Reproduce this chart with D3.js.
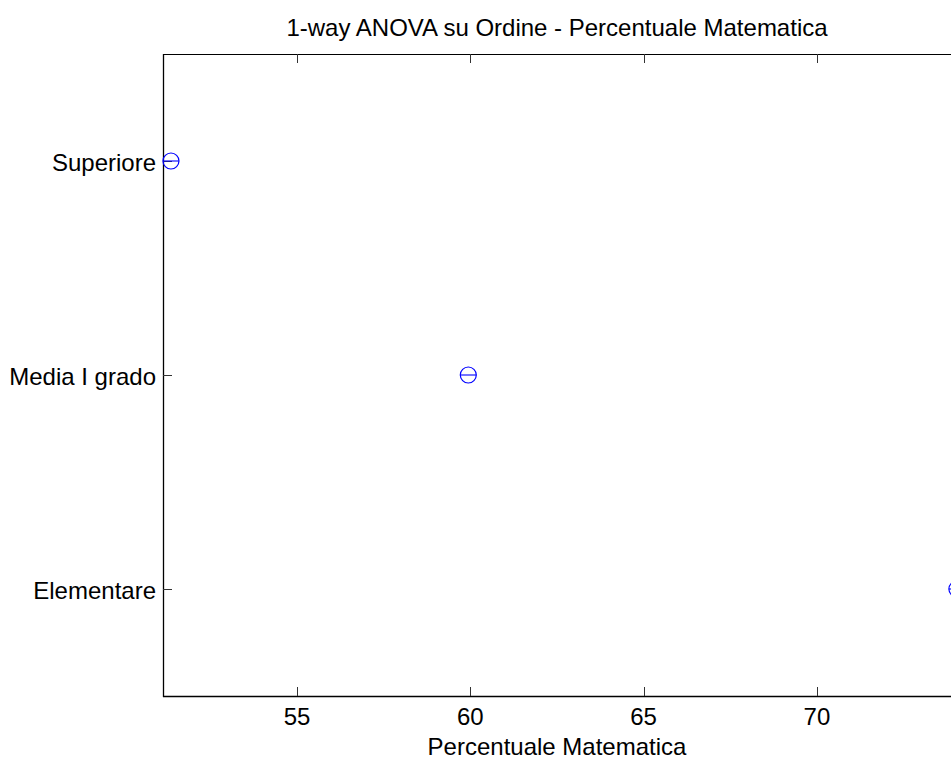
<!DOCTYPE html>
<html><head><meta charset="utf-8">
<script src="https://cdn.jsdelivr.net/npm/d3@7"></script>
<style>body{margin:0;background:#fff;} text{font-family:"Liberation Sans",Arial,sans-serif;fill:#000;}</style>
</head><body>
<svg id="c" width="951" height="760"></svg>
<script>
const groups = ["Elementare", "Media I grado", "Superiore"];
const means = [74.04, 59.94, 51.36];
const halfWidths = [0.23, 0.23, 0.23];
const xTicks = [55, 60, 65, 70];
const xDomain = [51.13, 73.87];
const titleText = "1-way ANOVA su Ordine - Percentuale Matematica";
const xLabelText = "Percentuale Matematica";

const svg = d3.select("#c");
const L = 163, R = 951, T = 54, B = 696;
const x = d3.scaleLinear().domain(xDomain).range([L, R]);
const y = d3.scaleLinear().domain([0.5, 3.5]).range([B, T]);
const tickLen = 9;
const fs = 24;

// box
svg.append("line").attr("x1", L).attr("x2", R + 5).attr("y1", T + 0.5).attr("y2", T + 0.5).attr("stroke", "#000");
svg.append("line").attr("x1", L).attr("x2", R + 5).attr("y1", B + 0.5).attr("y2", B + 0.5).attr("stroke", "#000").attr("stroke-width", 1.3);
svg.append("line").attr("x1", L + 0.5).attr("x2", L + 0.5).attr("y1", T).attr("y2", B + 1).attr("stroke", "#000").attr("stroke-width", 1.3);

// x ticks (inside, top and bottom)
const xt = svg.append("g");
xTicks.forEach(v => {
  const px = Math.round(x(v)) + 0.5;
  xt.append("line").attr("x1", px).attr("x2", px).attr("y1", B).attr("y2", B - tickLen).attr("stroke", "#333");
  xt.append("line").attr("x1", px).attr("x2", px).attr("y1", T).attr("y2", T + tickLen).attr("stroke", "#333");
  xt.append("text").attr("x", x(v)).attr("y", 725).attr("text-anchor", "middle").attr("font-size", fs).text(v);
});

// y ticks and labels
groups.forEach((g, i) => {
  const py = Math.round(y(i + 1)) + 0.5;
  svg.append("line").attr("x1", L).attr("x2", L + tickLen).attr("y1", py).attr("y2", py).attr("stroke", "#333");
  svg.append("text").attr("x", L - 7).attr("y", y(i + 1)).attr("dy", "0.42em").attr("text-anchor", "end").attr("font-size", fs).text(g);
});

// intervals and means
groups.forEach((g, i) => {
  const py = y(i + 1);
  svg.append("line").attr("x1", x(means[i] - halfWidths[i])).attr("x2", x(means[i] + halfWidths[i]))
    .attr("y1", py).attr("y2", py).attr("stroke", "#0000ff").attr("stroke-width", 1.1);
  svg.append("circle").attr("cx", x(means[i])).attr("cy", py).attr("r", 8)
    .attr("fill", "none").attr("stroke", "#0000ff").attr("stroke-width", 1.2);
});

// title and label
svg.append("text").attr("x", (L + R) / 2).attr("y", 36).attr("text-anchor", "middle").attr("font-size", fs).text(titleText);
svg.append("text").attr("x", (L + R) / 2).attr("y", 755).attr("text-anchor", "middle").attr("font-size", fs).text(xLabelText);
</script>
</body></html>
